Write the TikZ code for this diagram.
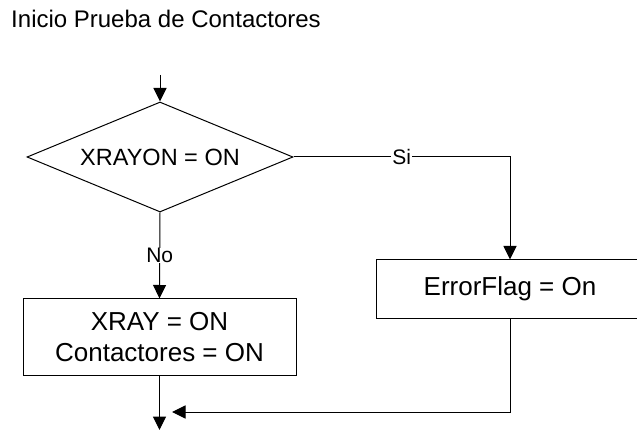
\documentclass[tikz,border=0pt]{standalone}
\usepackage{fontspec}
\setmainfont{Liberation Sans}
\usepackage{tikz}
\usetikzlibrary{positioning,arrows.meta,shapes.geometric}

\begin{document}
\begin{tikzpicture}[
    x=1pt, y=-1pt,
    txt/.style={font=\fontsize{24}{28}\selectfont, inner sep=0pt},
    blk/.style={txt, draw, line width=1pt, align=center, font=\fontsize{26}{31}\selectfont},
    dec/.style={blk, diamond, aspect=2.4, minimum width=266pt, minimum height=110pt,
                font=\fontsize{23.5}{28}\selectfont},
    lbl/.style={txt, font=\fontsize{21}{24}\selectfont, fill=white, inner xsep=1pt},
    arr/.style={-{Triangle[length=13.5pt, width=13pt]}, line width=1pt}
  ]
  \useasboundingbox (0,0) rectangle (637,430);
  \clip (0,0) rectangle (637,430);

  \node[txt] (title) at (166,19) {Inicio Prueba de Contactores};
  \coordinate (start) at (160,75);

  \node[dec] (cond) at (160,157) {XRAYON = ON};
  \node[blk, minimum width=273pt, minimum height=76pt] (act) at (159.5,337)
    {XRAY = ON\\Contactores = ON};
  \node[blk, minimum width=268pt, minimum height=58pt] (err) at (510,289)
    {ErrorFlag = On};

  \coordinate (stop) at (159.5,430);
  \coordinate (join) at (172,412);

  \draw[arr] (start) -- (cond.north);
  % branches of the decision
  \draw[arr] (cond.east) -| node[lbl, pos=0.25] {Si} (err.north);
  \draw[arr] (cond.south) -- node[lbl] {No} (act.north);

  % both paths meet below the action box
  \draw[arr] (act.south) -- (stop);
  \draw[arr] (err.south) |- (join);
\end{tikzpicture}
\end{document}
